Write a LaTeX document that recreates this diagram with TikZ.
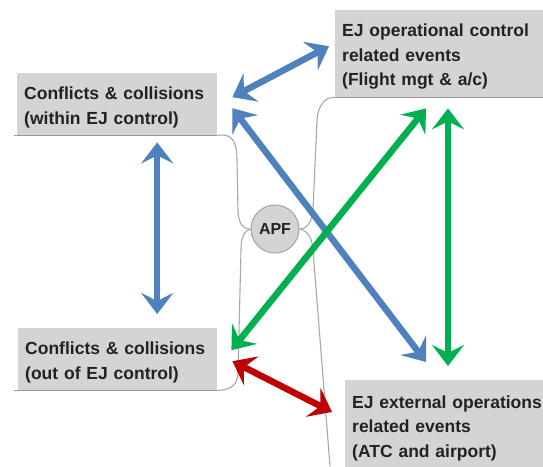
\documentclass[tikz,border=0pt]{standalone}
\usepackage{fontspec}
\setmainfont{Liberation Sans}
\usetikzlibrary{arrows.meta}
\definecolor{boxgray}{HTML}{D4D4D4}
\definecolor{linegray}{HTML}{A8A8A8}
\definecolor{edgegray}{HTML}{9A9A9A}
\definecolor{txt}{HTML}{222222}
\definecolor{ablue}{HTML}{4F81BD}
\definecolor{agreen}{HTML}{00B050}
\definecolor{ared}{HTML}{C00000}
\newcommand{\toppad}{\rule{0pt}{19pt}}
\tikzset{
  topic/.style={anchor=north west, fill=boxgray, draw=none, align=left,
    inner xsep=7pt, inner ysep=0pt, text=txt,
    font=\fontsize{17.5}{24.5}\selectfont\bfseries},
  branch/.style={draw=linegray, line width=1.1pt},
  bottomedge/.style={draw=edgegray, line width=1.6pt},
  dbl/.style={line width=6.5pt, >={Stealth[length=21pt,width=32pt,inset=8pt]}, <->},
}
\begin{document}
\begin{tikzpicture}[x=1pt,y=-1pt]
\fill[white] (0,0) rectangle (543,466);
\useasboundingbox (0,0) rectangle (543,466);
\clip (0,0) rectangle (543,466);

% boxes
\node[topic, minimum width=200pt, minimum height=62pt, text width=186pt] (b1) at (17,73)
  {\toppad Conflicts \& collisions\\(within EJ control)};
\node[topic, minimum width=199pt, minimum height=62pt, text width=185pt] (b2) at (18,328)
  {\toppad Conflicts \& collisions\\(out of EJ control)};
\node[topic, minimum width=215pt, minimum height=87pt, text width=201pt, inner xsep=6pt] (b3) at (335,10)
  {\toppad EJ operational control\\related events\\(Flight mgt \& a/c)};
\node[topic, minimum width=215pt, minimum height=90pt, text width=201pt] (b4) at (345,380)
  {\toppad EJ external operations\\related events\\(ATC and airport)};

% central node
\node[circle, minimum size=48pt, inner sep=0pt, fill=boxgray, draw=linegray, line width=1.1pt,
      text=txt, font=\fontsize{16}{18}\selectfont\bfseries] (apf) at (275,229) {APF};

% bottom edges of boxes
\draw[bottomedge] ([xshift=-3pt]b1.south west) -- (b1.south east);
\draw[bottomedge] ([xshift=-4pt]b2.south west) -- (b2.south east);
\draw[bottomedge] (b3.south west) -- (b3.south east);

% branches
\draw[branch] (b1.south east) -- (222,135) .. controls (234,135) and (237,145) .. (237,160)
  -- (238,212) .. controls (239,224) and (243,229) .. (apf.west);
\draw[branch] (apf.west) .. controls (244,231) and (241,237) .. (241,250)
  -- (238,372) .. controls (238,384) and (232,390) .. (b2.south east);
\draw[branch] (apf.east) .. controls (307,229) and (312,222) .. (313,210)
  -- (317,120) .. controls (318,105) and (325,97) .. (b3.south west);
\draw[branch] (apf.east) .. controls (307,231) and (312,236) .. (313,250)
  -- (330,466);

% arrows
\draw[dbl, ablue] ([xshift=15pt,yshift=7pt]b1.east) -- ([xshift=-6pt,yshift=7.5pt]b3.west);
\draw[dbl, ablue] ([xshift=40pt,yshift=-7pt]b1.south) -- ([xshift=39.5pt,yshift=14pt]b2.north);
\draw[dbl, ablue] ([xshift=15pt,yshift=-4pt]b1.east) -- ([xshift=81pt,yshift=18pt]b4.north west);
\draw[dbl, agreen] ([xshift=14pt,yshift=9pt]b2.east) -- ([xshift=91pt,yshift=-11pt]b3.south west);
\draw[dbl, agreen] ([xshift=113pt,yshift=-11pt]b3.south west) -- ([xshift=103pt,yshift=14pt]b4.north west);
\draw[dbl, ared] ([xshift=15pt,yshift=-2pt]b2.east) -- ([xshift=-13pt,yshift=-32pt]b4.north west);
\end{tikzpicture}
\end{document}
